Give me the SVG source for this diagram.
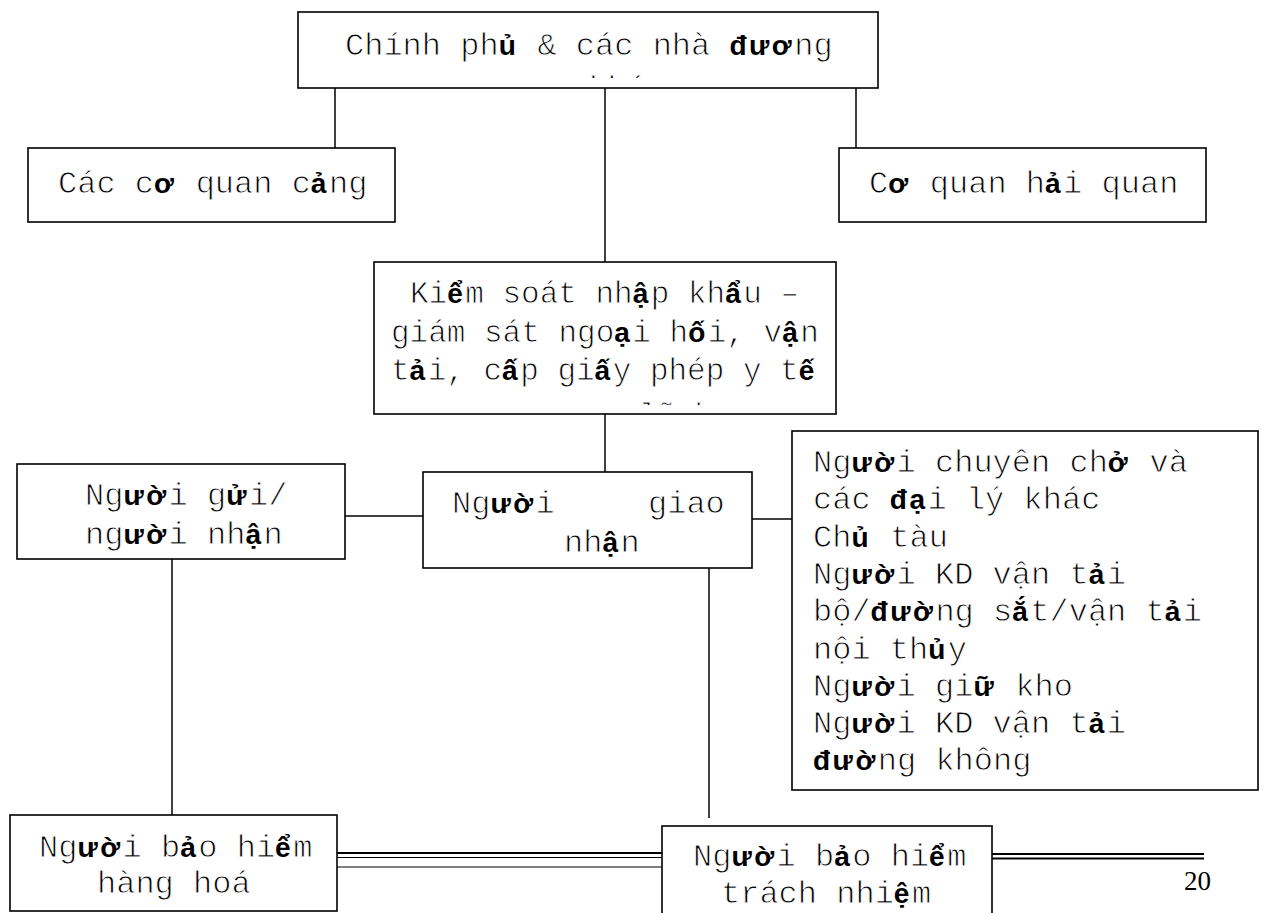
<svg xmlns="http://www.w3.org/2000/svg" width="1264" height="913" viewBox="0 0 1264 913">
<style>
.box{fill:#fff;stroke:#000;stroke-width:1.6}
.ln{stroke:#000;stroke-width:1.5;fill:none}
.t{font-family:"Liberation Mono","Courier New",monospace;font-size:32px;fill:#000;stroke:#fff;stroke-width:0.9px}
.m{font-size:31px}
.v{font-family:"Liberation Sans",Arial,sans-serif;font-weight:bold;font-size:28px;letter-spacing:2.5px;stroke:none}
.pg{font-family:"Liberation Serif","Times New Roman",serif;font-size:27px;fill:#000}
</style>
<defs>
<clipPath id="c1"><rect x="298" y="12" width="580" height="66"/></clipPath>
<clipPath id="c2"><rect x="374" y="262" width="462" height="143"/></clipPath>
</defs>
<rect width="1264" height="913" fill="#fff"/>
<g id="connectors">
<line class="ln" x1="335" y1="88" x2="335" y2="148"/>
<line class="ln" x1="605" y1="88" x2="605" y2="262"/>
<line class="ln" x1="856" y1="88" x2="856" y2="148"/>
<line class="ln" x1="605" y1="414" x2="605" y2="472"/>
<line class="ln" x1="345" y1="516" x2="423" y2="516"/>
<line class="ln" x1="752" y1="519" x2="792" y2="519"/>
<line class="ln" x1="172" y1="559" x2="172" y2="815"/>
<line class="ln" x1="709" y1="568" x2="709" y2="818"/>
<line stroke="#000" stroke-width="2" x1="337" y1="853" x2="662" y2="853"/>
<line stroke="#000" stroke-width="1" x1="337" y1="857.5" x2="662" y2="857.5"/>
<line stroke="#000" stroke-width="1" x1="337" y1="867" x2="662" y2="867"/>
<line stroke="#000" stroke-width="2" x1="992" y1="854" x2="1204" y2="854"/>
<line stroke="#000" stroke-width="2" x1="992" y1="858.5" x2="1204" y2="858.5"/>
</g>
<g id="gov">
<rect class="box" x="298" y="12" width="580" height="76"/>
<text class="t" x="345" y="55">Chính ph<tspan class="v">ủ</tspan> &amp; các nhà <tspan class="v">đươ</tspan>ng</text>
<text class="t" x="511" y="98" clip-path="url(#c1)">c<tspan class="v">ụ</tspan>c khác</text>
</g>
<g id="port">
<rect class="box" x="28" y="148" width="367" height="74"/>
<text class="t" x="58" y="193">Các c<tspan class="v">ơ</tspan> quan c<tspan class="v">ả</tspan>ng</text>
</g>
<g id="customs">
<rect class="box" x="839" y="148" width="367" height="74"/>
<text class="t" x="869" y="193">C<tspan class="v">ơ</tspan> quan h<tspan class="v">ả</tspan>i quan</text>
</g>
<g id="import">
<rect class="box" x="374" y="262" width="462" height="152"/>
<text class="t m" x="410" y="303">Ki<tspan class="v">ể</tspan>m soát nh<tspan class="v">ậ</tspan>p kh<tspan class="v">ẩ</tspan>u –</text>
<text class="t m" x="391" y="342">giám sát ngo<tspan class="v">ạ</tspan>i h<tspan class="v">ố</tspan>i, v<tspan class="v">ậ</tspan>n</text>
<text class="t m" x="391" y="380">t<tspan class="v">ả</tspan>i, c<tspan class="v">ấ</tspan>p gi<tspan class="v">ấ</tspan>y phép y t<tspan class="v">ế</tspan></text>
<text class="t m" x="486" y="425" clip-path="url(#c2)">c<tspan class="v">ơ</tspan> quan lãnh s<tspan class="v">ự</tspan></text>
</g>
<g id="shipper">
<rect class="box" x="17" y="464" width="328" height="95"/>
<text class="t" x="85" y="505">Ng<tspan class="v">ườ</tspan>i g<tspan class="v">ử</tspan>i/</text>
<text class="t" x="85" y="544">ng<tspan class="v">ườ</tspan>i nh<tspan class="v">ậ</tspan>n</text>
</g>
<g id="forwarder">
<rect class="box" x="423" y="472" width="329" height="96"/>
<text class="t" x="452" y="513" xml:space="preserve">Ng<tspan class="v">ườ</tspan>i  <tspan x="648">giao</tspan></text>
<text class="t" x="564" y="552">nh<tspan class="v">ậ</tspan>n</text>
</g>
<g id="carriers">
<rect class="box" x="792" y="431" width="466" height="359"/>
<text class="t" x="813" y="472">Ng<tspan class="v">ườ</tspan>i chuyên ch<tspan class="v">ở</tspan> và</text>
<text class="t" x="813" y="509.3">các <tspan class="v">đạ</tspan>i lý khác</text>
<text class="t" x="813" y="546.6">Ch<tspan class="v">ủ</tspan> tàu</text>
<text class="t" x="813" y="583.9">Ng<tspan class="v">ườ</tspan>i KD vận t<tspan class="v">ả</tspan>i</text>
<text class="t" x="813" y="621.2">bộ/<tspan class="v">đườ</tspan>ng s<tspan class="v">ắ</tspan>t/vận t<tspan class="v">ả</tspan>i</text>
<text class="t" x="813" y="658.5">nội th<tspan class="v">ủ</tspan>y</text>
<text class="t" x="813" y="695.8">Ng<tspan class="v">ườ</tspan>i gi<tspan class="v">ữ</tspan> kho</text>
<text class="t" x="813" y="733.1">Ng<tspan class="v">ườ</tspan>i KD vận t<tspan class="v">ả</tspan>i</text>
<text class="t" x="813" y="770.4"><tspan class="v">đườ</tspan>ng không</text>
</g>
<g id="cargo-insurer">
<rect class="box" x="10" y="815" width="327" height="96"/>
<text class="t" x="39" y="857">Ng<tspan class="v">ườ</tspan>i b<tspan class="v">ả</tspan>o hi<tspan class="v">ể</tspan>m</text>
<text class="t" x="97" y="893">hàng hoá</text>
</g>
<g id="liability-insurer">
<rect class="box" x="662" y="826" width="330" height="110"/>
<text class="t" x="693" y="866">Ng<tspan class="v">ườ</tspan>i b<tspan class="v">ả</tspan>o hi<tspan class="v">ể</tspan>m</text>
<text class="t" x="721" y="903">trách nhi<tspan class="v">ệ</tspan>m</text>
</g>
<text class="pg" x="1184" y="890">20</text>
</svg>
